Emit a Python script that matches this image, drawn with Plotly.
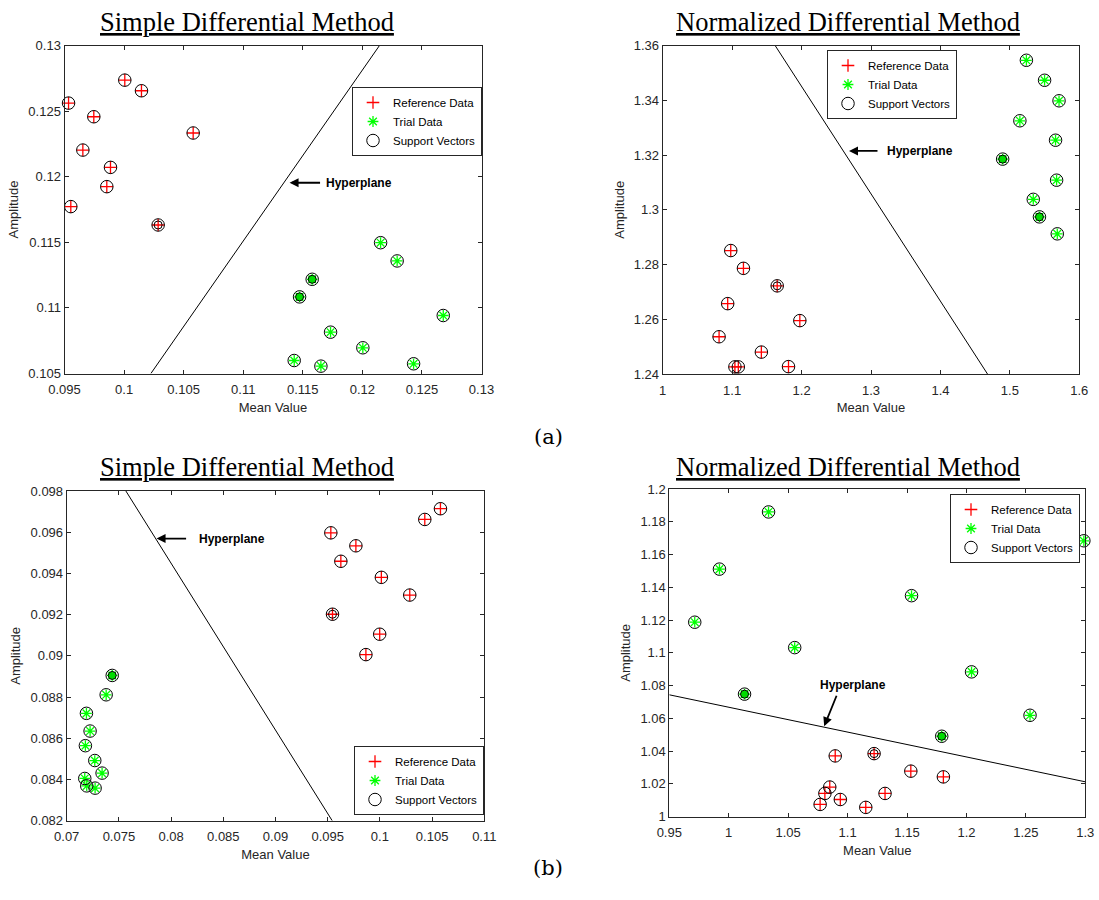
import plotly.graph_objects as go

# ---------------- (a) Simple Differential Method ----------------
a_sdm_ref_x = [0.09534, 0.10006, 0.10146, 0.09746, 0.09654, 0.09886, 0.09855, 0.09553, 0.10580, 0.10286]
a_sdm_ref_y = [0.12561, 0.12736, 0.12655, 0.12457, 0.12203, 0.12071, 0.11924, 0.11772, 0.12333, 0.11632]
a_sdm_trial_x = [0.12153, 0.12292, 0.11579, 0.11473, 0.12679, 0.11733, 0.12004, 0.11428, 0.11652, 0.12430]
a_sdm_trial_y = [0.11497, 0.11358, 0.11218, 0.11084, 0.10942, 0.10815, 0.10696, 0.10599, 0.10556, 0.10574]
a_sdm_ref_double = [9]
a_sdm_trial_double = [2, 3]
a_sdm_hyper_x = [0.10225, 0.12144]
a_sdm_hyper_y = [0.105, 0.13]
a_sdm_arrow = [0.11389, 0.11954]
a_sdm_xticks = [0.095, 0.1, 0.105, 0.11, 0.115, 0.12, 0.125, 0.13]
a_sdm_xlabels = ["0.095", "0.1", "0.105", "0.11", "0.115", "0.12", "0.125", "0.13"]
a_sdm_yticks = [0.105, 0.11, 0.115, 0.12, 0.125, 0.13]
a_sdm_ylabels = ["0.105", "0.11", "0.115", "0.12", "0.125", "0.13"]

# ---------------- (a) Normalized Differential Method ----------------
a_ndm_ref_x = [1.0980, 1.1163, 1.1649, 1.0936, 1.1975, 1.0812, 1.1421, 1.1040, 1.1089, 1.1812]
a_ndm_ref_y = [1.2851, 1.2786, 1.2722, 1.2657, 1.2595, 1.2536, 1.2480, 1.2426, 1.2426, 1.2427]
a_ndm_trial_x = [1.5238, 1.5500, 1.5708, 1.5144, 1.5658, 1.4896, 1.5673, 1.5337, 1.5426, 1.5683]
a_ndm_trial_y = [1.3546, 1.3473, 1.3398, 1.3325, 1.3254, 1.3185, 1.3108, 1.3038, 1.2974, 1.2912]
a_ndm_ref_double = [2]
a_ndm_trial_double = [5, 8]
a_ndm_hyper_x = [1.1619, 1.4678]
a_ndm_hyper_y = [1.36, 1.24]
a_ndm_arrow = [1.2683, 1.3215]
a_ndm_xticks = [1.0, 1.1, 1.2, 1.3, 1.4, 1.5, 1.6]
a_ndm_xlabels = ["1", "1.1", "1.2", "1.3", "1.4", "1.5", "1.6"]
a_ndm_yticks = [1.24, 1.26, 1.28, 1.30, 1.32, 1.34, 1.36]
a_ndm_ylabels = ["1.24", "1.26", "1.28", "1.3", "1.32", "1.34", "1.36"]

# ---------------- (b) Simple Differential Method ----------------
b_sdm_ref_x = [0.10580, 0.10430, 0.09530, 0.09770, 0.09626, 0.10014, 0.10286, 0.09546, 0.09998, 0.09866]
b_sdm_ref_y = [0.09714, 0.09662, 0.09597, 0.09534, 0.09459, 0.09381, 0.09295, 0.09202, 0.09105, 0.09006]
b_sdm_trial_x = [0.07436, 0.07378, 0.07189, 0.07224, 0.07179, 0.07269, 0.07339, 0.07173, 0.07192, 0.07272]
b_sdm_trial_y = [0.08905, 0.08811, 0.08721, 0.08635, 0.08564, 0.08492, 0.08431, 0.08405, 0.08369, 0.08358]
b_sdm_ref_double = [7]
b_sdm_trial_double = [0]
b_sdm_hyper_x = [0.07567, 0.09543]
b_sdm_hyper_y = [0.098, 0.082]
b_sdm_arrow = [0.07861, 0.09569]
b_sdm_xticks = [0.07, 0.075, 0.08, 0.085, 0.09, 0.095, 0.1, 0.105, 0.11]
b_sdm_xlabels = ["0.07", "0.075", "0.08", "0.085", "0.09", "0.095", "0.1", "0.105", "0.11"]
b_sdm_yticks = [0.082, 0.084, 0.086, 0.088, 0.09, 0.092, 0.094, 0.096, 0.098]
b_sdm_ylabels = ["0.082", "0.084", "0.086", "0.088", "0.09", "0.092", "0.094", "0.096", "0.098"]

# ---------------- (b) Normalized Differential Method ----------------
b_ndm_ref_x = [1.0896, 1.1223, 1.1532, 1.1806, 1.0850, 1.0809, 1.0939, 1.1315, 1.0769, 1.1153]
b_ndm_ref_y = [1.0371, 1.0385, 1.0278, 1.0243, 1.0181, 1.0142, 1.0105, 1.0142, 1.0075, 1.0057]
b_ndm_trial_x = [1.0335, 0.9922, 0.9714, 1.0555, 1.0133, 1.1538, 1.2043, 1.2535, 1.1792, 1.2988]
b_ndm_trial_y = [1.1860, 1.1511, 1.1187, 1.1032, 1.0748, 1.1349, 1.0884, 1.0619, 1.0491, 1.1684]
b_ndm_ref_double = [1]
b_ndm_trial_double = [4, 8]
b_ndm_hyper_x = [0.95, 1.30]
b_ndm_hyper_y = [1.0744, 1.0213]
b_ndm_arrow = [1.0803, 1.0552]
b_ndm_xticks = [0.95, 1.0, 1.05, 1.1, 1.15, 1.2, 1.25, 1.3]
b_ndm_xlabels = ["0.95", "1", "1.05", "1.1", "1.15", "1.2", "1.25", "1.3"]
b_ndm_yticks = [1.0, 1.02, 1.04, 1.06, 1.08, 1.1, 1.12, 1.14, 1.16, 1.18, 1.2]
b_ndm_ylabels = ["1", "1.02", "1.04", "1.06", "1.08", "1.1", "1.12", "1.14", "1.16", "1.18", "1.2"]

panel_titles = ["Simple Differential Method", "Normalized Differential Method",
                "Simple Differential Method", "Normalized Differential Method"]
legend_names = ["Reference Data", "Trial Data", "Support Vectors"]
x_title = "Mean Value"
y_title = "Amplitude"
arrow_text = "Hyperplane"
sub_labels = ["(a)", "(b)"]

panels = [
    dict(rx=a_sdm_ref_x, ry=a_sdm_ref_y, tx=a_sdm_trial_x, ty=a_sdm_trial_y,
         rd=a_sdm_ref_double, td=a_sdm_trial_double, hx=a_sdm_hyper_x, hy=a_sdm_hyper_y,
         arrow=a_sdm_arrow, xt=a_sdm_xticks, xl=a_sdm_xlabels, yt=a_sdm_yticks, yl=a_sdm_ylabels),
    dict(rx=a_ndm_ref_x, ry=a_ndm_ref_y, tx=a_ndm_trial_x, ty=a_ndm_trial_y,
         rd=a_ndm_ref_double, td=a_ndm_trial_double, hx=a_ndm_hyper_x, hy=a_ndm_hyper_y,
         arrow=a_ndm_arrow, xt=a_ndm_xticks, xl=a_ndm_xlabels, yt=a_ndm_yticks, yl=a_ndm_ylabels),
    dict(rx=b_sdm_ref_x, ry=b_sdm_ref_y, tx=b_sdm_trial_x, ty=b_sdm_trial_y,
         rd=b_sdm_ref_double, td=b_sdm_trial_double, hx=b_sdm_hyper_x, hy=b_sdm_hyper_y,
         arrow=b_sdm_arrow, xt=b_sdm_xticks, xl=b_sdm_xlabels, yt=b_sdm_yticks, yl=b_sdm_ylabels),
    dict(rx=b_ndm_ref_x, ry=b_ndm_ref_y, tx=b_ndm_trial_x, ty=b_ndm_trial_y,
         rd=b_ndm_ref_double, td=b_ndm_trial_double, hx=b_ndm_hyper_x, hy=b_ndm_hyper_y,
         arrow=b_ndm_arrow, xt=b_ndm_xticks, xl=b_ndm_xlabels, yt=b_ndm_yticks, yl=b_ndm_ylabels),
]

W, H = 1099, 900
# plot areas in pixels (left, top, right, bottom)
boxes = [(64.5, 45.5, 481.5, 373.5), (662.7, 45.5, 1079.3, 374.0),
         (66.7, 491.0, 484.3, 820.7), (669.3, 489.0, 1085.3, 816.7)]
# legend boxes (left, top/bottom, anchor)
legend_pos = [(352, 87, "top"), (827, 50, "top"), (354, 815, "bottom"), (950, 494, "top")]
title_pos = [(247, 22), (848, 22), (247, 467), (848, 467)]
# arrow tail offsets (px) and text placements
arrow_off = [(32, 0), (30, 0), (31, 0), (13, -32)]
text_off = [(34, 0, "left", "middle"), (36, 0, "left", "middle"),
            (40, 0, "left", "middle"), (29, -32, "center", "bottom")]

AXC = "#262626"
RED = "#ff0000"
GREEN = "#00ff00"
fig = go.Figure()
layout = dict(width=W, height=H, autosize=False,
              margin=dict(l=0, r=0, t=0, b=0, autoexpand=False),
              paper_bgcolor="white", plot_bgcolor="white",
              font=dict(family="Arial, Liberation Sans, sans-serif", color=AXC),
              annotations=[])

for i, p in enumerate(panels):
    sfx = "" if i == 0 else str(i + 1)
    xa, ya = "x" + sfx, "y" + sfx
    lg = "legend" + sfx
    # hyperplane
    fig.add_trace(go.Scatter(x=p["hx"], y=p["hy"], mode="lines",
                             line=dict(color="black", width=1),
                             showlegend=False, xaxis=xa, yaxis=ya, hoverinfo="skip"))
    fig.add_trace(go.Scatter(x=p["rx"], y=p["ry"], mode="markers", name=legend_names[0],
                             marker=dict(symbol="cross-thin-open", size=9, color=RED,
                                         line=dict(color=RED, width=1.3)),
                             xaxis=xa, yaxis=ya, legend=lg, cliponaxis=False))
    fig.add_trace(go.Scatter(x=p["tx"], y=p["ty"], mode="markers", name=legend_names[1],
                             marker=dict(symbol="asterisk-open", size=9, color=GREEN,
                                         line=dict(color=GREEN, width=1.3)),
                             xaxis=xa, yaxis=ya, legend=lg, cliponaxis=False))
    fig.add_trace(go.Scatter(x=p["rx"] + p["tx"], y=p["ry"] + p["ty"], mode="markers",
                             name=legend_names[2],
                             marker=dict(symbol="circle-open", size=12.5, color="black",
                                         line=dict(color="black", width=1)),
                             xaxis=xa, yaxis=ya, legend=lg, cliponaxis=False))
    # inner circles of duplicated support vectors
    fig.add_trace(go.Scatter(x=[p["rx"][k] for k in p["rd"]], y=[p["ry"][k] for k in p["rd"]],
                             mode="markers", showlegend=False,
                             marker=dict(symbol="circle-open", size=8, color="black",
                                         line=dict(color="black", width=1)),
                             xaxis=xa, yaxis=ya, cliponaxis=False, hoverinfo="skip"))
    fig.add_trace(go.Scatter(x=[p["tx"][k] for k in p["td"]], y=[p["ty"][k] for k in p["td"]],
                             mode="markers", showlegend=False,
                             marker=dict(symbol="circle", size=8, color="#00dd00",
                                         line=dict(color="black", width=1)),
                             xaxis=xa, yaxis=ya, cliponaxis=False, hoverinfo="skip"))

    l, t, r, b = boxes[i]
    axis_common = dict(showline=True, linecolor=AXC, linewidth=1, mirror="ticks",
                       ticks="inside", ticklen=4, tickcolor=AXC, showgrid=False,
                       zeroline=False, automargin=False, tickfont=dict(size=13, color=AXC))
    layout["xaxis" + sfx] = dict(axis_common, domain=[l / W, r / W], anchor=ya,
                                 range=[p["xt"][0], p["xt"][-1]],
                                 tickvals=p["xt"], ticktext=p["xl"], ticklabelstandoff=4,
                                 title=dict(text=x_title, font=dict(size=13, color=AXC), standoff=6))
    layout["yaxis" + sfx] = dict(axis_common, domain=[1 - b / H, 1 - t / H], anchor=xa,
                                 range=[p["yt"][0], p["yt"][-1]],
                                 tickvals=p["yt"], ticktext=p["yl"],
                                 title=dict(text=y_title, font=dict(size=13, color=AXC), standoff=6))
    lx, ly, yanc = legend_pos[i]
    layout[lg] = dict(x=lx / W, y=1 - ly / H, xanchor="left", yanchor=yanc,
                      bgcolor="white", bordercolor=AXC, borderwidth=1,
                      font=dict(size=11.5, color="black"), tracegroupgap=0)
    # title
    tx_, ty_ = title_pos[i]
    layout["annotations"].append(dict(
        text="<u>" + panel_titles[i] + "</u>", xref="paper", yref="paper",
        x=tx_ / W, y=1 - ty_ / H, xanchor="center", yanchor="middle", showarrow=False,
        font=dict(family="Times New Roman, Liberation Serif, serif", size=26.5, color="black")))
    # arrow
    axo, ayo = arrow_off[i]
    layout["annotations"].append(dict(
        text="", x=p["arrow"][0], y=p["arrow"][1], xref=xa, yref=ya,
        showarrow=True, ax=axo, ay=ayo, arrowhead=2, arrowsize=1, arrowwidth=1.8,
        arrowcolor="black"))
    txo, tyo, txa, tya = text_off[i]
    layout["annotations"].append(dict(
        text="<b>" + arrow_text + "</b>", x=p["arrow"][0], y=p["arrow"][1], xref=xa, yref=ya,
        showarrow=False, xshift=txo, yshift=-tyo, xanchor=txa, yanchor=tya,
        font=dict(size=12, color="black", family="Arial, Liberation Sans, sans-serif")))

layout["annotations"].append(dict(text=sub_labels[0], xref="paper", yref="paper",
                                  x=548 / W, y=1 - 437 / H, showarrow=False,
                                  font=dict(family="DejaVu Serif, serif", size=21, color="black")))
layout["annotations"].append(dict(text=sub_labels[1], xref="paper", yref="paper",
                                  x=548 / W, y=1 - 882 / H, showarrow=False,
                                  font=dict(family="DejaVu Serif, serif", size=21, color="black")))

fig.update_layout(**layout)
fig.write_html("out.html", config={"displayModeBar": False},
               post_script="document.body.style.margin='0';")
